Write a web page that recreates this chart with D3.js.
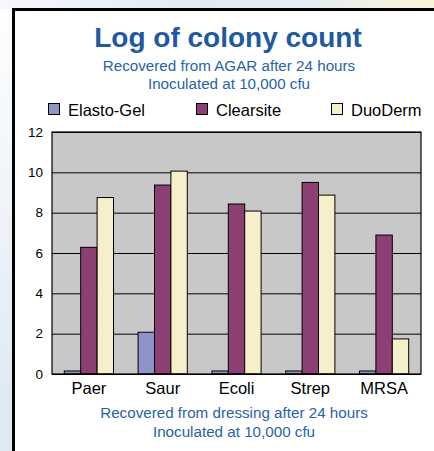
<!DOCTYPE html>
<html>
<head>
<meta charset="utf-8">
<script src="https://cdn.jsdelivr.net/npm/d3@7"></script>
<style>
  body { margin: 0; background: #fff; }
  svg { display: block; font-family: Arial, "Liberation Sans", sans-serif; }
</style>
</head>
<body>
<div id="chart"></div>
<script>
const categories = ["Paer", "Saur", "Ecoli", "Strep", "MRSA"];
const seriesNames = ["Elasto-Gel", "Clearsite", "DuoDerm"];
const elastoGel = [0.15, 2.07, 0.15, 0.15, 0.15];
const clearsite = [6.28, 9.37, 8.43, 9.5, 6.89];
const duoDerm = [8.75, 10.06, 8.08, 8.87, 1.74];
const yTicks = [0, 2, 4, 6, 8, 10, 12];

const width = 434;
const height = 451;
const blue = "#1f5a9e";
const colors = ["#8c94c8", "#8b3f72", "#f5f0c9"];
const plotBg = "#c8c8c8";
const fontFamily = "Arial, 'Liberation Sans', sans-serif";

const plot = { left: 52, top: 132, right: 421, bottom: 374 };

const svg = d3.select("#chart").append("svg")
  .attr("width", width)
  .attr("height", height);

// soft page background behind the frame
const defs = svg.append("defs");
const bgGrad = defs.append("linearGradient")
  .attr("id", "bg")
  .attr("x1", "0%").attr("y1", "0%")
  .attr("x2", "100%").attr("y2", "100%");
bgGrad.append("stop").attr("offset", "0%").attr("stop-color", "#ffffff");
bgGrad.append("stop").attr("offset", "45%").attr("stop-color", "#dfeaf4");
bgGrad.append("stop").attr("offset", "100%").attr("stop-color", "#dbe8f3");
svg.append("rect").attr("width", width).attr("height", height).attr("fill", "url(#bg)");

const topGrad = defs.append("linearGradient")
  .attr("id", "topbg")
  .attr("x1", "0%").attr("y1", "0%").attr("x2", "100%").attr("y2", "0%");
topGrad.append("stop").attr("offset", "0%").attr("stop-color", "#f6f8fb");
topGrad.append("stop").attr("offset", "45%").attr("stop-color", "#e2eaf2");
topGrad.append("stop").attr("offset", "75%").attr("stop-color", "#e8edf0");
topGrad.append("stop").attr("offset", "100%").attr("stop-color", "#fbf4d8");
svg.append("rect").attr("x", 0).attr("y", 0).attr("width", width).attr("height", 9)
  .attr("fill", "url(#topbg)");

// white panel with thick black frame (cut off right and bottom)
svg.append("rect")
  .attr("x", 13.5).attr("y", 9.5)
  .attr("width", width + 10).attr("height", height + 10)
  .attr("fill", "#fff")
  .attr("stroke", "#000")
  .attr("stroke-width", 3);

// titles
svg.append("text")
  .attr("x", 228).attr("y", 47)
  .attr("text-anchor", "middle")
  .attr("font-size", 28)
  .attr("font-weight", "bold")
  .attr("fill", blue)
  .text("Log of colony count");

const subTop = ["Recovered from AGAR after 24 hours", "Inoculated at 10,000 cfu"];
svg.append("g").selectAll("text").data(subTop).join("text")
  .attr("x", 229)
  .attr("y", (d, i) => 71 + i * 17.5)
  .attr("text-anchor", "middle")
  .attr("font-size", 15.2)
  .attr("fill", "#2a62a8")
  .text((d) => d);

// legend
const legendX = [48, 196, 331];
const legend = svg.append("g").selectAll("g").data(seriesNames).join("g")
  .attr("transform", (d, i) => `translate(${legendX[i]}, 103)`);
legend.append("rect")
  .attr("x", 0.5).attr("y", 0.5)
  .attr("width", 11).attr("height", 11)
  .attr("fill", (d, i) => colors[i])
  .attr("stroke", "#000");
legend.append("text")
  .attr("x", 20).attr("y", 12.5)
  .attr("font-size", 16.5)
  .attr("fill", "#000")
  .text((d) => d);

// scales
const x0 = d3.scaleBand()
  .domain(categories)
  .range([plot.left, plot.right])
  .paddingInner(1 / 3)
  .paddingOuter(1 / 6);
const x1 = d3.scaleBand()
  .domain(seriesNames)
  .range([0, x0.bandwidth()]);
const y = d3.scaleLinear()
  .domain([0, 12])
  .range([plot.bottom, plot.top]);

// plot area
svg.append("rect")
  .attr("x", plot.left).attr("y", plot.top)
  .attr("width", plot.right - plot.left)
  .attr("height", plot.bottom - plot.top)
  .attr("fill", plotBg);

// gridlines
svg.append("g")
  .attr("transform", `translate(${plot.left}, 0)`)
  .call(d3.axisRight(y).tickValues(yTicks).tickSize(plot.right - plot.left).tickFormat(""))
  .call((g) => g.select(".domain").remove())
  .call((g) => g.selectAll(".tick line").attr("stroke", "#000").attr("stroke-width", 1));

// y labels
svg.append("g")
  .attr("transform", `translate(${plot.left}, 0)`)
  .call(d3.axisLeft(y).tickValues(yTicks).tickSize(0).tickPadding(9))
  .call((g) => g.select(".domain").remove())
  .call((g) => g.selectAll("text")
    .attr("font-size", 13.5)
    .attr("font-family", fontFamily)
    .attr("fill", "#000"));

// bars
const series = [elastoGel, clearsite, duoDerm];
const groups = svg.append("g").selectAll("g").data(categories).join("g")
  .attr("transform", (d) => `translate(${x0(d)}, 0)`);
groups.selectAll("rect")
  .data((d, ci) => seriesNames.map((s, si) => ({ s, si, v: series[si][ci] })))
  .join("rect")
  .attr("x", (d) => x1(d.s))
  .attr("y", (d) => y(d.v))
  .attr("width", x1.bandwidth())
  .attr("height", (d) => y(0) - y(d.v))
  .attr("fill", (d) => colors[d.si])
  .attr("stroke", "#000")
  .attr("stroke-width", 1);

// plot border
svg.append("rect")
  .attr("x", plot.left).attr("y", plot.top)
  .attr("width", plot.right - plot.left)
  .attr("height", plot.bottom - plot.top)
  .attr("fill", "none")
  .attr("stroke", "#000")
  .attr("stroke-width", 1.2);

// x labels
svg.append("g")
  .attr("transform", `translate(0, ${plot.bottom})`)
  .call(d3.axisBottom(x0).tickSize(0).tickPadding(8))
  .call((g) => g.select(".domain").remove())
  .call((g) => g.selectAll("text")
    .attr("font-size", 16.5)
    .attr("font-family", fontFamily)
    .attr("fill", "#000"));

const subBottom = ["Recovered from dressing after 24 hours", "Inoculated at 10,000 cfu"];
svg.append("g").selectAll("text").data(subBottom).join("text")
  .attr("x", 234)
  .attr("y", (d, i) => 418 + i * 19)
  .attr("text-anchor", "middle")
  .attr("font-size", 15.2)
  .attr("fill", "#2a62a8")
  .text((d) => d);
</script>
</body>
</html>
